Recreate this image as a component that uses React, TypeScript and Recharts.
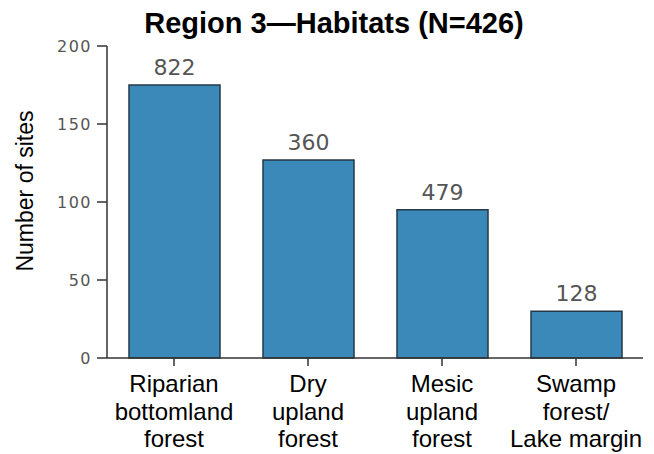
import { BarChart, Bar, XAxis, YAxis, LabelList } from 'recharts';

const habitats = [
  'Riparian\nbottomland\nforest',
  'Dry\nupland\nforest',
  'Mesic\nupland\nforest',
  'Swamp\nforest/\nLake margin',
];
const siteCounts = [175, 127, 95, 30];
const barLabels = ['822', '360', '479', '128'];
const yTicks = [0, 50, 100, 150, 200];

const data = habitats.map((name, i) => ({
  name,
  sites: siteCounts[i],
  label: barLabels[i],
}));

const font = '"Liberation Sans", Arial, sans-serif';
const numFont = '"DejaVu Sans", Verdana, sans-serif';

function HabitatTick(props: any) {
  const { x, y, payload } = props;
  const lines = String(payload.value).split('\n');
  return (
    <g transform={`translate(${x},${y})`}>
      {lines.map((line: string, i: number) => (
        <text
          key={i}
          x={0}
          y={24 + i * 27.5}
          textAnchor="middle"
          fontSize={24}
          fontFamily={font}
          fill="#000"
        >
          {line}
        </text>
      ))}
    </g>
  );
}

function YTitle() {
  return (
    <text
      x={33}
      y={191}
      transform="rotate(-90 33 191)"
      textAnchor="middle"
      fontSize={23}
      fontFamily={font}
      fill="#000"
    >
      Number of sites
    </text>
  );
}

export default function App() {
  return (
    <div style={{ position: 'absolute', left: 0, top: 0, width: 654, height: 454, background: '#fff' }}>
      <BarChart
        width={654}
        height={454}
        data={data}
        margin={{ top: 46, right: 11, left: 0, bottom: 0 }}
        barSize={91}
      >
        <text
          x={334}
          y={33}
          textAnchor="middle"
          fontSize={29}
          fontWeight="bold"
          fontFamily={font}
          fill="#000"
        >
          Region 3—Habitats (N=426)
        </text>
        <XAxis
          dataKey="name"
          height={96}
          interval={0}
          tick={<HabitatTick />}
          tickLine={{ stroke: '#333', strokeWidth: 1.5 }}
          tickSize={8}
          axisLine={{ stroke: '#333', strokeWidth: 1.5 }}
        />
        <YAxis
          width={107}
          domain={[0, 200]}
          ticks={yTicks}
          tickSize={10}
          tickMargin={5}
          tick={{ fill: '#555', fontSize: 16, fontFamily: numFont, letterSpacing: 1.5 }}
          tickLine={{ stroke: '#333', strokeWidth: 1.5 }}
          axisLine={{ stroke: '#333', strokeWidth: 1.5 }}
          label={{ content: () => <YTitle /> }}
        />
        <Bar
          dataKey="sites"
          fill="#3a89b9"
          stroke="#243847"
          strokeWidth={1.5}
          isAnimationActive={false}
        >
          <LabelList
            dataKey="label"
            position="top"
            offset={10}
            fill="#555"
            fontSize={22}
            fontFamily={numFont}
          />
        </Bar>
      </BarChart>
    </div>
  );
}
